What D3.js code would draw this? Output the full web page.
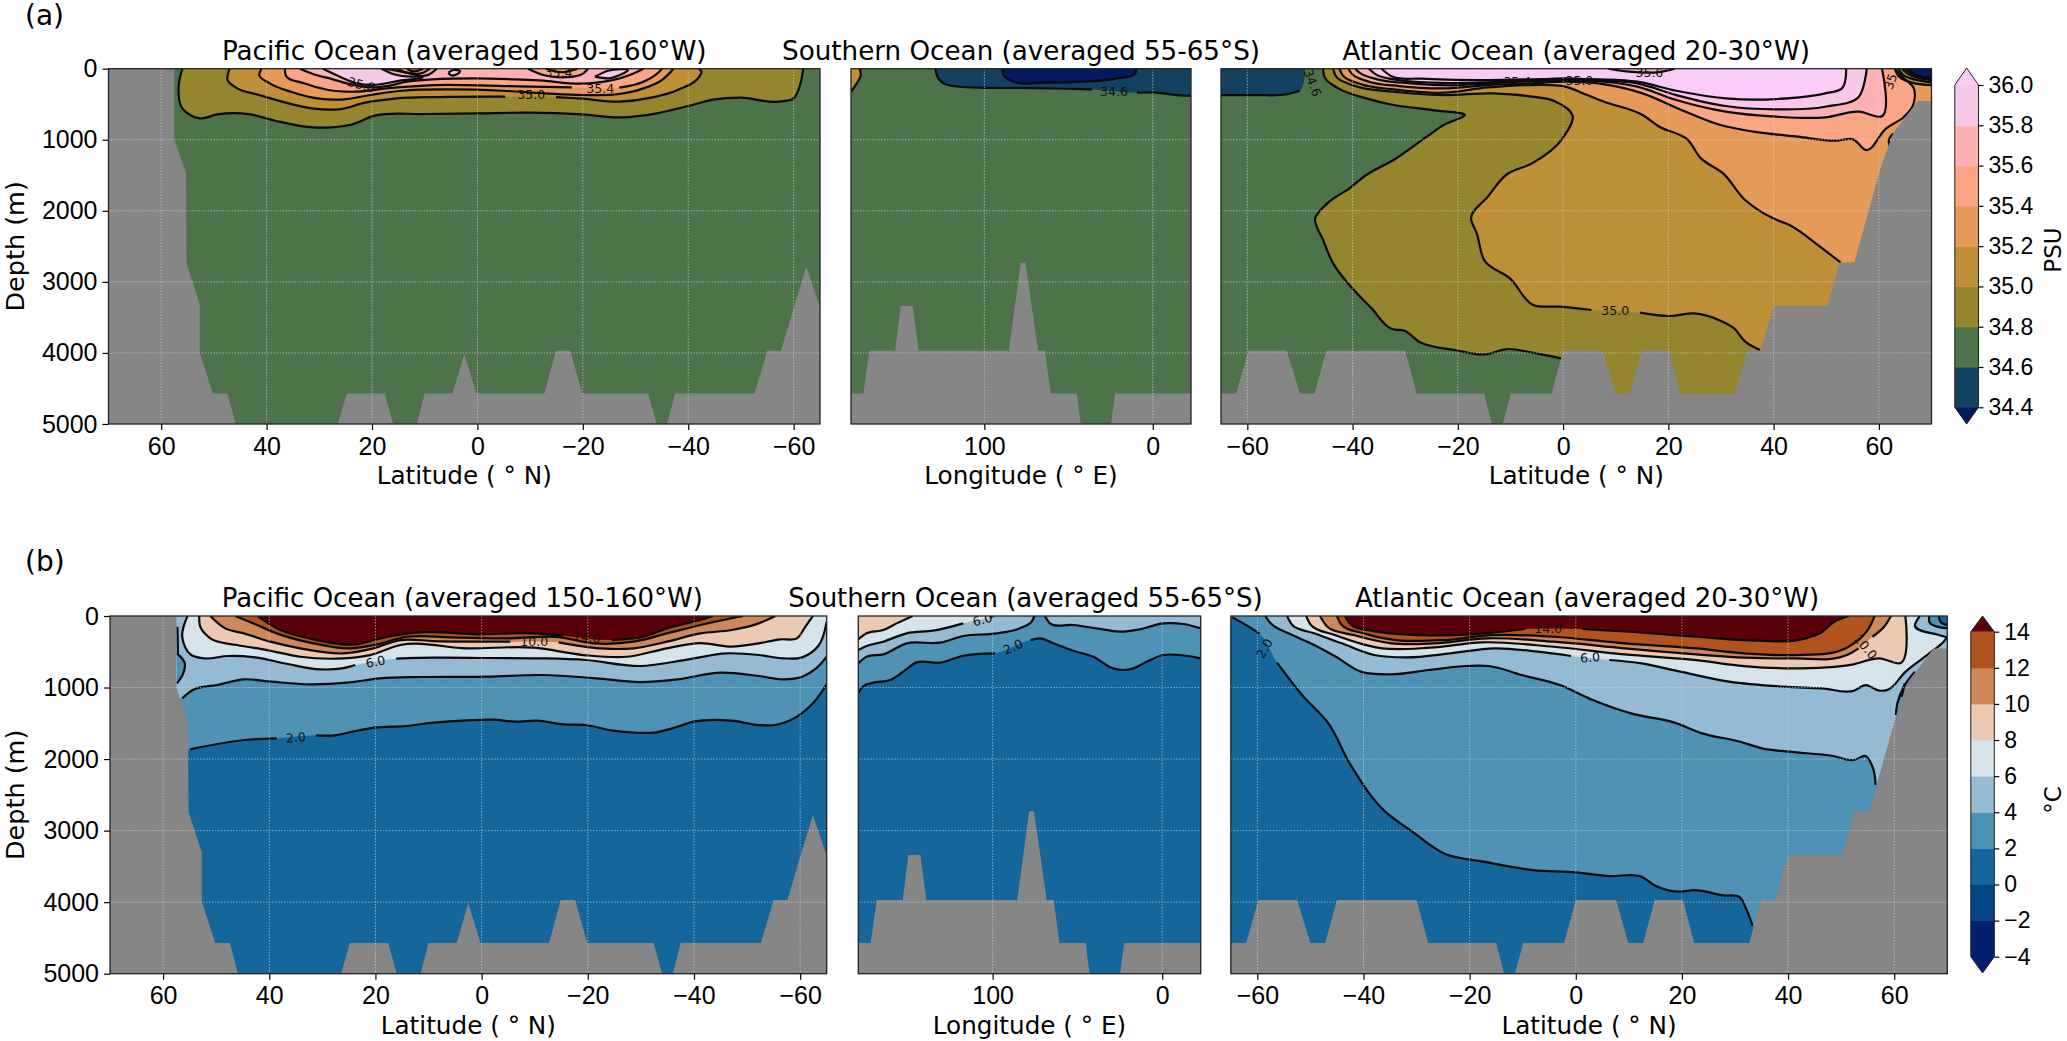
<!DOCTYPE html>
<html>
<head>
<meta charset="utf-8">
<script src="https://cdn.jsdelivr.net/npm/d3@7"></script>
<style>
  html, body { margin: 0; padding: 0; background: #fff; }
  svg { display: block; font-family: "DejaVu Sans", sans-serif; }
</style>
</head>
<body>
<div id="chart"></div>
<script>
// colour classes: levels are the class edges, colours run from below the lowest edge upward
const salinityLevels = [34.4, 34.6, 34.8, 35.0, 35.2, 35.4, 35.6, 35.8, 36.0];
const salinityColors = ["#031a5e", "#124162", "#4e734b", "#94862f", "#bf8f38", "#e59a59", "#fba585", "#fcb2b5", "#f8c8ea", "#f9cbf6"];
const temperatureLevels = [-4, -2, 0, 2, 4, 6, 8, 10, 12, 14];
const temperatureColors = ["#021f6e", "#021f6e", "#044484", "#15669a", "#4f92b6", "#94bbd2", "#d6e3ea", "#ecc9b3", "#cd8759", "#b1531e", "#5a0008"];

const depthTicks = [0, 1000, 2000, 3000, 4000, 5000];
const latTicksPacific = [60, 40, 20, 0, -20, -40, -60];
const lonTicksSouthern = [100, 0];
const latTicksAtlantic = [-60, -40, -20, 0, 20, 40, 60];

// sea floor [x, depth], same for both rows
const pacificLand = [[70,0],[57.5,0],[57.5,1000],[55.3,1473],[55.2,2740],[52.7,3311],[52.7,3990],[50.2,4570],[47.4,4570],[45.9,5000],[26.5,5000],[24.8,4570],[17.6,4570],[16,5000],[11.5,5000],[10,4570],[4.7,4570],[2.5,4015],[0.2,4570],[-12.7,4570],[-14.9,3970],[-17.6,3970],[-19.9,4570],[-32.4,4570],[-34,5000],[-36,5000],[-37.5,4570],[-52.6,4570],[-55,3970],[-57.6,3970],[-60,3370],[-62.4,2786],[-65,3350],[-65,5000],[70,5000]];
const southernLand = [[179.2,4570],[171.9,4570],[168.3,3970],[153,3970],[149.7,3340],[142.6,3340],[139,3970],[85.5,3970],[78.4,2730],[75.6,2730],[68.1,3970],[64,3970],[60.6,4570],[45.1,4570],[42.8,5000],[24.8,5000],[22.4,4570],[-22.8,4570],[-22.8,5000],[179.2,5000]];
const atlanticLand = [[-65,4570],[-62.1,4570],[-59.8,3970],[-52.5,3970],[-50,4570],[-47.2,4570],[-45,3970],[-30,3970],[-27.8,4570],[-15,4570],[-13.5,5000],[-11.5,5000],[-9.9,4570],[-2.2,4570],[0,3970],[7.6,3970],[9.9,4570],[12.7,4570],[14.9,3970],[20.2,3970],[22.3,4570],[32.7,4570],[34.9,3970],[37.5,3970],[40,3340],[50.2,3340],[52.5,2730],[55.3,2730],[60.4,1380],[62.7,910],[67.4,455],[70,455],[70,5000],[-65,5000]];

// contours: v = class value inside the shape (null = line only), pts = [x, depth],
// null in pts = gap for a label, to = extra corners closing the fill
const pacificSalinity = [
  { v: 34.9, pts: [[56,0],[56.7,253],[56,558],[52.7,700],[49.4,643],[43.4,638],[38.4,732],[33.4,807],[28.8,830],[24.3,793],[19.3,657],[10.3,638],[0,628],[-9.8,619],[-19.9,643],[-27.4,685],[-34,628],[-40,525],[-45,432],[-50,408],[-57,464],[-60,417],[-61.3,206],[-61.8,0]] },
  { v: 35.1, pts: [[47,0],[47.4,160],[45.9,263],[41.4,370],[36.4,478],[31.4,558],[26.3,572],[21.3,478],[15.3,417],[7.2,399],[-5.3,394],null,[-14.9,399],[-19.9,422],[-26.9,464],[-33,408],[-38,300],[-42,122],[-42.5,42],[-42,0]] },
  { v: 35.3, pts: [[41,0],[41.4,89],[39.4,206],[35.4,324],[30.4,417],[25.3,431],[20.3,370],[14.3,310],[5.2,291],[-4.8,310],[-12.9,347],[-19.9,370],[-26.9,356],[-31.5,277],[-35,160],[-37.2,0]] },
  { v: 35.5, pts: [[36.5,0],[36.4,89],[32.9,206],[28.3,300],[23.3,324],[17.3,277],[8.2,230],[-4.8,244],[-17.9,263],null,[-26.9,267],[-31.5,183],[-34.5,42],[-35,0]] },
  { v: 35.7, pts: [[33.7,0],[31.2,74],[27.4,150],[24.8,206],[19.8,263],[17.2,244],[13.4,183],[8.4,150],[0.8,135],[-7.4,150],[-12.5,168],[-17.5,206],[-22.6,197],[-28.9,89],[-31.5,0]] },
  { v: 35.9, pts: [[29.3,0],[26.1,112],[22.9,206],[19.8,229],[14.7,168],[10.5,125],[17.5,0]] },
  { v: 35.7, pts: [[18.2,0],[16,74],[12.2,112],[9,74],[7.7,0]] },
  { v: 35.5, pts: [[15.3,0],[13.4,56],[10.3,56],[9,0]] },
  { v: 35.3, pts: [[13.4,0],[12.2,37],[10.3,0]] },
  { v: 35.9, pts: [[5.5,56],[4.6,18],[3.3,37],[3.9,79],[5.2,84],[5.5,56]] },
  { v: 35.5, pts: [[-9.6,0],[-12.5,89],[-16.3,121],[-20.1,65],[-21,0]] },
  { v: 35.3, pts: [[-13,0],[-16,50],[-19,0]] },
  { v: 35.9, pts: [[-22.3,112],[-24.8,28],[-28.6,19],[-25.1,135],[-22.3,112]] }
];
const pacificSalinityLabels = [["35.8", 22, 225, 15], ["35.0", -10.2, 370, 0], ["35.4", -23.3, 283, 0], ["35.4", -15.4, 55, 0]];

const southernSalinity = [
  { v: 35.1, pts: [[173.9,0],[173.5,103],[175.8,206],[179.2,324]], to: [[179.2,0]] },
  { v: 34.5, pts: [[129.1,0],[127.3,136],[124.4,206],[118.4,244],[102.6,267],[72.9,272],[36.2,291],null,[9.5,338],[-2.4,338],[-14.3,371],[-22.8,380]], to: [[-22.8,0]] },
  { v: 34.3, pts: [[89.3,0],[88.3,103],[82.8,183],[65,197],[41.2,183],[21.4,136],[10.5,66],[9.5,0]] }
];
const southernSalinityLabels = [["34.6", 23, 314, 0]];

const atlanticSalinity = [
  { v: 34.5, pts: [[-65,371],[-58.7,371],[-52.2,356],[-50,310],null,[-49,0]], to: [[-65,0]] },
  { v: 34.9, pts: [[-45.6,0],[-45.3,122],[-42.7,277],[-37.4,417],[-32.2,511],[-24.8,582],[-18.7,657],[-22.7,793],[-25.9,957],[-32.2,1285],[-37.4,1496],[-40.6,1684],[-44.8,1895],[-47.1,2106],[-45.6,2411],[-43.7,2739],[-40.6,3044],[-36.4,3372],[-32.5,3663],[-30.1,3687],[-27.4,3841],[-20.6,3959],[-14.8,4020],[-10.6,3945],[-5.9,3996],[-0.4,4076]], to: [[0,5000],[70,5000],[70,0]] },
  { v: 35.1, pts: [[-43.7,0],[-43.2,103],[-39.5,244],[-32.2,324],[-22.7,371],[-13.2,347],[-5.9,394],[-1.7,455],[1.8,657],[-0.1,980],[-5.9,1332],[-10.6,1482],[-14.3,1801],[-17.5,2106],[-16.4,2317],[-14.8,2716],[-10.1,2950],[-5.7,3325],[-0.6,3349],[5.4,3396],null,[14.6,3433],[20.4,3480],[24.9,3443],[29.9,3546],[32.5,3654],[34.6,3841],[37.4,3959]], to: [[70,3959],[70,0]] },
  { v: 35.3, pts: [[-42.5,0],[-41.9,89],[-38.5,216],[-32.2,291],[-22.7,338],[-14.3,263],[-5.9,230],[0.4,253],[4.6,371],[7.8,464],[15.1,652],[18.3,816],[23.6,994],[26.2,1262],[30.4,1473],[34.6,1848],[39.9,2106],[43,2200],[48.8,2505],[52.7,2725]], to: [[70,2725],[70,0]] },
  { v: 35.5, pts: [[-40.8,0],[-40.1,75],[-36.9,183],[-31.1,244],[-22.7,277],[-14.3,230],[-5.9,206],[0.4,183],[6.7,206],[15.1,347],[22.5,582],[29.9,793],[36.2,886],[44.6,957],[51.9,1013],[55.1,994],[57.5,1144],[61.4,840],[64.8,675],[66.4,530],[66.6,270],[64.5,120],[63,0]] },
  { v: 35.7, pts: [[-39.5,0],[-38.7,56],[-35.3,150],[-29,206],[-21.7,234],[-14.3,206],[-5.9,174],[0.4,160],[6.7,174],[14.1,253],[21.5,441],[30.9,605],[40.4,675],[49.8,685],[56.2,605],[60.4,675],[60.6,0]] },
  { v: 35.9, pts: [[-36.9,0],[-35.5,84],[-32.2,150],[-24.8,197],[-14.3,192],[-5.9,160],[0.4,136],[6.7,160],[14.1,206],[21.5,371],[30.9,525],[40.4,572],[49.8,535],[56.2,394],[57.7,0]] },
  { v: 36.1, pts: [[-34.5,0],[-32.7,103],[-26.9,141],[-14.3,160],[-5.9,150],[6.7,150],[14.1,183],[21.5,310],[30.9,417],[40.4,427],[49.8,347],[53,277],[53.8,0]] },
  { v: 35.7, pts: [[8.6,0],[12,38],[18.3,47],[21.2,0]] },
  { v: 35.1, pts: [[63,0],[63.7,103],[66.1,192],[70,230]], to: [[70,0]] },
  { v: 34.9, pts: [[63.7,0],[64.6,89],[66.7,150],[70,192]], to: [[70,0]] },
  { v: 34.7, pts: [[64.4,0],[65.4,66],[67.2,122],[70,160]], to: [[70,0]] },
  { v: 34.5, pts: [[65.1,0],[66,60],[67.6,118],[70,140]], to: [[70,0]] },
  { v: 34.3, pts: [[65.8,0],[66.7,75],[68.3,113],[70,122]], to: [[70,0]] },
  { v: null, pts: [[62.7,910],[61.9,1004],[62.1,1107]] }
];
const atlanticSalinityLabels = [["34.6", -47.6, 200, 70], ["35.4", -8.7, 183, 0], ["35.0", 3.1, 169, 0], ["35.6", 16.4, 50, 0], ["35", 62.2, 180, -70], ["35.0", 9.9, 3396, 0]];

const pacificTemperature = [
  { v: 3, pts: [[54.9,1864],[49.8,1789],[44.7,1733],[38.6,1710],null,[31.2,1668],[27.3,1664],[24.3,1617],[20.2,1561],[14.1,1538],[9,1491],[2.9,1459],[-2.2,1449],[-6.3,1477],[-10.4,1463],[-15.5,1514],[-19.6,1524],[-24.7,1603],[-28.8,1631],[-32.9,1626],[-35.9,1570],[-40,1477],[-47.1,1463],[-52.2,1524],[-55.3,1524],[-59.4,1407],[-62.4,1221],[-65,951]], to: [[-65,0],[70,0],[70,1864]] },
  { v: 5, pts: [[56.4,1151],[54.4,1034],[49.8,965],[44.7,885],[39.6,918],[32.4,955],[25.3,932],[19.2,871],[11,853],[-1.2,848],[-11.4,825],[-21.6,871],[-29.8,923],[-36.9,885],[-45.1,792],[-52.2,839],[-56.8,885],[-60.4,848],[-63,732],[-65,568]], to: [[-65,0],[70,0],[70,1151]] },
  { v: 3, pts: [[57.4,522],[55.9,662],[56.2,801],[57.4,941]] },
  { v: null, pts: [[57.3,149],[57.2,522]] },
  { v: 7, pts: [[55.4,0],[56.4,289],[54.7,545],[52.3,592],[47.8,559],[42.7,578],[36.5,671],[30.4,746],[26.3,732],[23.8,685],null,[16.1,596],[9,582],[-1.2,587],[-11.4,592],[-19.6,615],[-29.8,699],[-39,606],[-46.1,522],[-52.2,545],[-56.8,592],[-60.4,578],[-63.4,420],[-65,79]], to: [[-65,0]] },
  { v: 9, pts: [[53.2,0],[53,150],[51.1,313],[46.1,406],[40.4,476],[34.2,570],[26,592],[21,546],[15.3,406],[2.8,452],[-9.8,443],[-19.2,546],[-27.4,570],[-34.9,452],[-41.2,380],[-47.1,429],[-52.2,382],[-56.3,326],[-59.4,312],[-60.9,158],[-62.4,0]] },
  { v: 11, pts: [[51.1,0],[48.3,173],[44.8,243],[39.8,359],[34.2,452],[26,523],[20.4,452],[15.3,336],[9.1,350],[-5.4,359],null,[-14.5,368],[-22.3,452],[-28.6,452],[-34.9,359],[-41.2,243],[-47.1,196],[-52.2,103],[-55.3,0]] },
  { v: 13, pts: [[46.4,0],[42.3,126],[38.6,243],[31.7,382],[24.7,452],[19.7,396],[14.1,290],[5.9,298],[-5.4,312],[-14.5,294],[-21.1,382],[-28.6,359],[-34.9,243],[-41.2,126],[-49.2,0]] },
  { v: 15, pts: [[42.2,0],[37.9,196],[31.7,326],[23.5,396],[19.1,312],[11.6,228],[0.9,256],[-9.8,243],[-15.4,275],null,[-24.5,336],[-30.5,290],[-34.9,173],[-41.2,56],[-43.6,0]] }
];
const pacificTemperatureLabels = [["2.0", 35, 1696, -5], ["6.0", 20, 638, -12], ["10.0", -9.9, 350, 0], ["14.0", -19.8, 298, 5]];

const southernTemperature = [
  { v: 3, pts: [[179.2,1081],[176.2,979],[170.3,932],[160.5,895],[152.7,778],[144.8,648],[131,652],[117.3,555],[98.6,522],null,[77.6,336],[72.1,312],[64.2,382],[52.5,485],[40.7,569],[28.9,732],[23,755],[17.1,732],[9.2,638],[-0.6,545],[-10.4,545],[-22.6,592]], to: [[-22.8,0],[179.2,0]] },
  { v: 5, pts: [[179.2,662],[174.3,568],[164.5,536],[150.7,382],[131,373],[117.3,280],[97.6,242],[83.9,172],[77,79],[75.4,0]], to: [[179.2,0]] },
  { v: 5, pts: [[69.2,0],[66.2,103],[52.5,126],[38.7,172],[25,219],[13.2,186],[-0.6,103],[-12.4,112],[-22.6,172]], to: [[-22.8,0]] },
  { v: 7, pts: [[179.2,475],[174.3,419],[164.5,359],[150.7,242],[135,205],[117.3,103],null,[101.6,19],[99.2,0]], to: [[179.2,0]] },
  { v: 9, pts: [[179.2,326],[174.3,242],[164.5,196],[156.6,103],[147.2,0]], to: [[179.2,0]] }
];
const southernTemperatureLabels = [["6.0", 106, 50, -15], ["2.0", 88, 430, -25]];

const atlanticTemperature = [
  { v: 3, pts: [[-64.7,19],[-61.1,172],[-59.6,247],null,[-56.3,652],[-51.3,1127],[-46.7,1491],[-42.6,2060],[-35.9,2735],[-30.8,3015],[-24.6,3327],[-17.4,3434],[-8.1,3551],[0.1,3583],[6.3,3635],[12.4,3644],[15,3770],[19.7,3854],[22.2,3831],[27.9,3905],[30.8,3924],[32.2,4110],[33.3,4329]], to: [[70,4329],[70,0],[-65,0]] },
  { v: 5, pts: [[-58.5,0],[-57.5,103],[-53.4,266],[-49.3,405],[-45.2,569],[-40.5,778],[-34.9,815],[-27.7,755],[-20.5,699],[-16.4,699],[-10.2,825],[-3,965],[3.2,1174],[10.4,1361],[18.6,1491],[23.8,1640],[31,1757],[35.1,1850],[40.2,1897],[48.5,1957],[52.4,2013],[54.6,1957],[55.9,2106],[56.5,2363]], to: [[70,2363],[70,0]] },
  { v: 3, pts: [[60.3,1384],[60.6,1221],[61.8,988],[63.9,778]], to: [[70,778],[70,1384]] },
  { v: null, pts: [[61.4,1128],[62,941]] },
  { v: 7, pts: [[-54.4,0],[-53.4,126],[-49.3,242],[-44.1,382],[-38,545],[-31.8,578],[-23.6,522],[-15.3,452],[-7.1,499],[-0.9,559],null,[6.3,615],[12.4,662],[19.7,778],[28.9,918],[39.2,988],[46.4,1011],[52.4,1044],[54.6,965],[57.2,1044],[58.6,1036],[62.1,780],[66.6,522],[69.3,359],[70,300]], to: [[70,0]] },
  { v: 9, pts: [[-50.8,0],[-49.9,126],[-45.4,266],[-36.5,452],[-27.5,443],[-17.7,368],[-4.2,430],[9.2,536],[22.7,616],[31.7,700],[40.6,732],[52.3,676],[57.2,592],[61,662],[62.1,0]] },
  { v: 11, pts: [[-48.2,0],[-46.8,150],[-41.9,266],[-34.7,382],[-26.6,382],[-16.7,312],[-4.2,359],[9.2,452],[22.7,536],[31.7,583],[40.6,592],[51.4,536],[53.3,452],null,[55.9,290],[58.1,150],[59.4,0]] },
  { v: 13, pts: [[-45,0],[-44.1,126],[-40,243],[-33.8,336],[-24.8,336],[-15.8,266],[-4.2,290],[9.2,382],[22.7,452],[31.7,522],[40.6,546],[51.4,430],[55,196],[56.3,0]] },
  { v: 15, pts: [[-43.5,0],[-42.3,126],[-38.3,210],[-29.3,266],[-19.4,256],[-9.6,182],null,[1.2,182],[10.2,220],[22.7,290],[31.7,336],[43.3,312],[46,243],[48.7,80],[51.4,0]] },
  { v: 5, pts: [[64.8,0],[63.9,126],[68.4,266],[70,300]], to: [[70,0]] },
  { v: 3, pts: [[66.6,0],[66.6,80],[70,173]], to: [[70,0]] },
  { v: 1, pts: [[68.4,0],[68.7,80],[70,126]], to: [[70,0]] }
];
const atlanticTemperatureLabels = [["2.0", -58.7, 452, -60], ["14.0", -5.2, 172, 0], ["6.0", 2.7, 578, -5], ["10.0", 54.6, 429, 50]];

const W = 2067, H = 1041;
const svg = d3.select("#chart").append("svg").attr("width", W).attr("height", H).attr("viewBox", [0, 0, W, H]);

const salinityColor = d3.scaleThreshold().domain(salinityLevels).range(salinityColors);
const temperatureColor = d3.scaleThreshold().domain(temperatureLevels).range(temperatureColors);

// chordal keeps the corners tight, the source contours are rather angular
const contourCurve = d3.curveCatmullRom.alpha(1);
let clipCount = 0;

function drawSection(o) {
  const x = d3.scaleLinear().domain(o.xDomain).range([o.left, o.right]);
  const y = d3.scaleLinear().domain([0, 5000]).range([o.top, o.bottom]);
  const clipId = "clip" + (clipCount++);
  svg.append("clipPath").attr("id", clipId).append("rect")
    .attr("x", o.left).attr("y", o.top).attr("width", o.right - o.left).attr("height", o.bottom - o.top);

  const g = svg.append("g").attr("clip-path", `url(#${clipId})`);
  g.append("rect").attr("x", o.left).attr("y", o.top).attr("width", o.right - o.left).attr("height", o.bottom - o.top)
    .attr("fill", o.color(o.base));

  const line = d3.line().defined(p => p !== null).x(p => x(p[0])).y(p => y(p[1])).curve(contourCurve);

  // filled classes, stacked in list order
  g.append("g").selectAll("path").data(o.contours.filter(c => c.v !== null)).join("path")
    .attr("d", c => {
      const corners = (c.to || []).map(p => `L${x(p[0])},${y(p[1])}`).join("");
      return line(c.pts.filter(p => p !== null)) + corners + "Z";
    })
    .attr("fill", c => o.color(c.v));

  // contour lines with the label gaps left open
  g.append("g").selectAll("path").data(o.contours).join("path")
    .attr("d", c => line(c.pts))
    .attr("fill", "none").attr("stroke", "#0a0a0a").attr("stroke-width", 2.2);

  g.append("path")
    .attr("d", d3.line().x(p => x(p[0])).y(p => y(p[1]))(o.land) + "Z")
    .attr("fill", "#868686");

  // dotted grid on top of everything
  const grid = g.append("g").attr("stroke", "#d8d8d8").attr("stroke-opacity", 0.6)
    .attr("stroke-width", 1).attr("stroke-dasharray", "1.5,1.5");
  grid.selectAll(".gx").data(o.xTicks).join("line").attr("class", "gx")
    .attr("x1", d => x(d)).attr("x2", d => x(d)).attr("y1", o.top).attr("y2", o.bottom);
  grid.selectAll(".gy").data(depthTicks.slice(1, -1)).join("line").attr("class", "gy")
    .attr("x1", o.left).attr("x2", o.right).attr("y1", d => y(d)).attr("y2", d => y(d));

  g.append("g").selectAll("text").data(o.labels).join("text")
    .attr("transform", d => `translate(${x(d[1])},${y(d[2])}) rotate(${d[3]})`)
    .attr("text-anchor", "middle").attr("dominant-baseline", "central")
    .attr("font-size", 12.5).attr("fill", "#111").text(d => d[0]);

  // axes
  const xAxis = svg.append("g").attr("transform", `translate(0,${o.bottom})`)
    .call(d3.axisBottom(x).tickValues(o.xTicks).tickFormat(d3.format("d")).tickSize(6).tickPadding(7));
  xAxis.selectAll("text").attr("font-size", 25).attr("fill", "#000");
  xAxis.select(".domain").remove();
  xAxis.selectAll("line").attr("stroke", "#000").attr("stroke-width", 1.2);

  if (o.showDepth) {
    const yAxis = svg.append("g").attr("transform", `translate(${o.left},0)`)
      .call(d3.axisLeft(y).tickValues(depthTicks).tickFormat(d3.format("d")).tickSize(6).tickPadding(5));
    yAxis.selectAll("text").attr("font-size", 25).attr("fill", "#000");
    yAxis.select(".domain").remove();
    yAxis.selectAll("line").attr("stroke", "#000").attr("stroke-width", 1.2);
    svg.append("text").attr("transform", `translate(15,${(o.top + o.bottom) / 2}) rotate(-90)`)
      .attr("text-anchor", "middle").attr("dominant-baseline", "central")
      .attr("font-size", 25.5).text("Depth (m)");
  }

  svg.append("rect").attr("x", o.left).attr("y", o.top).attr("width", o.right - o.left).attr("height", o.bottom - o.top)
    .attr("fill", "none").attr("stroke", "#222").attr("stroke-width", 1.3);

  svg.append("text").attr("x", (o.left + o.right) / 2 + (o.titleShift || 0)).attr("y", o.top - 9)
    .attr("text-anchor", "middle").attr("font-size", o.titleSize).text(o.title);
  svg.append("text").attr("x", (o.left + o.right) / 2).attr("y", o.bottom + 60)
    .attr("text-anchor", "middle").attr("font-size", 24.7).text(o.xLabel);
}

function drawColorbar(o) {
  const y = d3.scaleLinear().domain([o.levels[0], o.levels[o.levels.length - 1]]).range([o.y0, o.y1]);
  const mid = (o.left + o.right) / 2;
  const bands = d3.pairs(o.levels);
  svg.append("g").selectAll("rect").data(bands).join("rect")
    .attr("x", o.left).attr("width", o.right - o.left)
    .attr("y", d => y(d[1])).attr("height", d => y(d[0]) - y(d[1]) + 0.5)
    .attr("fill", d => o.color(d[0]));
  svg.append("path").attr("d", `M${o.left},${o.y1}L${mid},${o.tipTop}L${o.right},${o.y1}Z`).attr("fill", o.color(o.levels[o.levels.length - 1]));
  svg.append("path").attr("d", `M${o.left},${o.y0}L${mid},${o.tipBottom}L${o.right},${o.y0}Z`).attr("fill", o.color(o.levels[0] - 1));
  svg.append("path")
    .attr("d", `M${o.left},${o.y0}L${o.left},${o.y1}L${mid},${o.tipTop}L${o.right},${o.y1}L${o.right},${o.y0}L${mid},${o.tipBottom}Z`)
    .attr("fill", "none").attr("stroke", "#222").attr("stroke-width", 1);
  const axis = svg.append("g").attr("transform", `translate(${o.right},0)`)
    .call(d3.axisRight(y).tickValues(o.levels).tickFormat(o.format).tickSize(5).tickPadding(5));
  axis.select(".domain").remove();
  axis.selectAll("text").attr("font-size", 23).attr("fill", "#000");
  axis.selectAll("line").attr("stroke", "#000").attr("stroke-width", 1.2);
  svg.append("text").attr("transform", `translate(2052.5,${o.labelY}) rotate(-90)`)
    .attr("text-anchor", "middle").attr("dominant-baseline", "central").attr("font-size", 23).text(o.label);
}

const latN = "Latitude ( \u00B0 N)", lonE = "Longitude ( \u00B0 E)";
const pacificDomain = [70, -65], southernDomain = [179.2, -22.7], atlanticDomain = [-65, 70];

// (a) salinity
const rowA = { top: 68.7, bottom: 424, color: salinityColor, base: 34.7, titleSize: 26.2 };
drawSection({ ...rowA, left: 108.5, right: 820, xDomain: pacificDomain, xTicks: latTicksPacific, land: pacificLand, contours: pacificSalinity, labels: pacificSalinityLabels, title: "Pacific Ocean (averaged 150-160\u00B0W)", xLabel: latN, showDepth: true });
drawSection({ ...rowA, left: 851, right: 1191, xDomain: southernDomain, xTicks: lonTicksSouthern, land: southernLand, contours: southernSalinity, labels: southernSalinityLabels, title: "Southern Ocean (averaged 55-65\u00B0S)", xLabel: lonE });
drawSection({ ...rowA, left: 1221, right: 1931.5, xDomain: atlanticDomain, xTicks: latTicksAtlantic, land: atlanticLand, contours: atlanticSalinity, labels: atlanticSalinityLabels, title: "Atlantic Ocean (averaged 20-30\u00B0W)", xLabel: latN });
drawColorbar({ levels: salinityLevels, color: salinityColor, left: 1954.8, right: 1978.5, y0: 407.3, y1: 85, tipTop: 68, tipBottom: 424, label: "PSU", labelY: 250, format: d3.format(".1f") });

// (b) temperature
const rowB = { top: 616, bottom: 973.7, color: temperatureColor, base: 1, titleSize: 26 };
drawSection({ ...rowB, left: 110, right: 826.7, titleShift: -6, xDomain: pacificDomain, xTicks: latTicksPacific, land: pacificLand, contours: pacificTemperature, labels: pacificTemperatureLabels, title: "Pacific Ocean (averaged 150-160\u00B0W)", xLabel: latN, showDepth: true });
drawSection({ ...rowB, left: 858.3, right: 1200.7, titleShift: -4, xDomain: southernDomain, xTicks: lonTicksSouthern, land: southernLand, contours: southernTemperature, labels: southernTemperatureLabels, title: "Southern Ocean (averaged 55-65\u00B0S)", xLabel: lonE });
drawSection({ ...rowB, left: 1230.8, right: 1947.3, titleShift: -2, xDomain: atlanticDomain, xTicks: latTicksAtlantic, land: atlanticLand, contours: atlanticTemperature, labels: atlanticTemperatureLabels, title: "Atlantic Ocean (averaged 20-30\u00B0W)", xLabel: latN });
drawColorbar({ levels: temperatureLevels, color: temperatureColor, left: 1970.8, right: 1994.3, y0: 956.7, y1: 631.7, tipTop: 616, tipBottom: 973, label: "\u00B0C", labelY: 800, format: d3.format("d") });

svg.append("text").attr("x", 25).attr("y", 25).attr("font-size", 28).text("(a)");
svg.append("text").attr("x", 25).attr("y", 571).attr("font-size", 28).text("(b)");
</script>
</body>
</html>
